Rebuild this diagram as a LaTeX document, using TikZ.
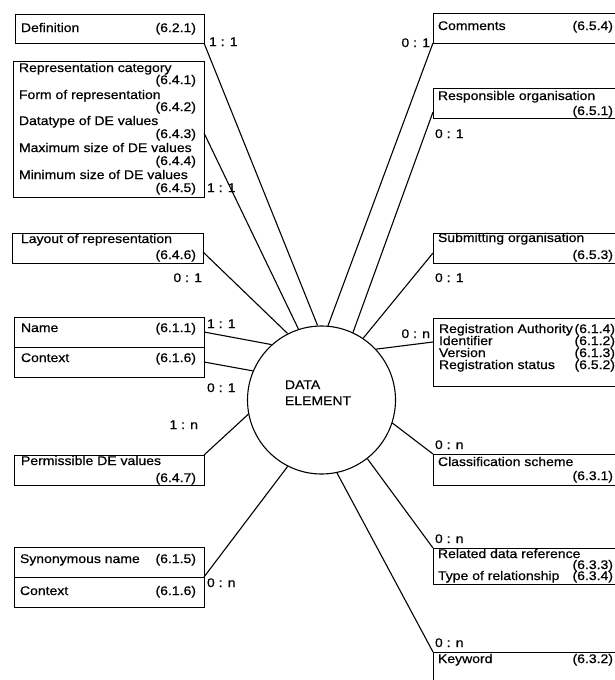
\documentclass[tikz,border=0pt]{standalone}
\usepackage{fontspec}
\setmainfont{Liberation Sans}[FakeStretch=1.12,FakeBold=0.6]
\begin{document}
\begin{tikzpicture}[x=1pt,y=-1pt,
  box/.style={draw, line width=0.7pt, inner sep=0, outer sep=0, anchor=north west},
  txt/.style={inner sep=0, outer sep=0, font=\fontsize{12.5}{14}\selectfont, anchor=base west},
  num/.style={txt, anchor=base east},
  link/.style={line width=1.1pt}]
\useasboundingbox (0,0) rectangle (615,680);
\clip (0,0) rectangle (615,680);
\fill[white] (0,0) rectangle (615,680);

% central entity
\node[circle, draw, line width=1.1pt, minimum size=148pt, inner sep=0] (de) at (321.5,400) {};
\node[txt] (deA) at (285,389) {DATA};
\node[txt] (deB) at (285,405) {ELEMENT};

% left boxes
\node[box, minimum width=189pt, minimum height=29pt] (def) at (15,14) {};
\node[box, minimum width=191pt, minimum height=136pt] (rep) at (13,61) {};
\node[box, minimum width=191pt, minimum height=30pt] (lay) at (12,233) {};
\node[box, minimum width=190pt, minimum height=30pt] (name) at (14,317) {};
\node[box, minimum width=190pt, minimum height=30pt] (ctxa) at (14,347) {};
\node[box, minimum width=190pt, minimum height=30pt] (perm) at (14,455) {};
\node[box, minimum width=190pt, minimum height=30pt] (syn) at (14,547) {};
\node[box, minimum width=190pt, minimum height=30pt] (ctxb) at (14,577) {};

% right boxes (cut by the picture's right edge)
\node[box, minimum width=200pt, minimum height=30pt] (com) at (433,13) {};
\node[box, minimum width=200pt, minimum height=30pt] (resp) at (433,88) {};
\node[box, minimum width=200pt, minimum height=30pt] (subm) at (433,233) {};
\node[box, minimum width=200pt, minimum height=68pt] (reg) at (433,318) {};
\node[box, minimum width=200pt, minimum height=31pt] (cls) at (433,454) {};
\node[box, minimum width=200pt, minimum height=36pt] (rel) at (433,548) {};
\node[box, minimum width=200pt, minimum height=40pt] (kw) at (433,652) {};

% left texts
\node[txt] (tdef) at (21,32) {Definition};
\node[num] (ndef) at (196,32) {(6.2.1)};
\node[txt] (trep1) at (19,72) {Representation category};
\node[num] (nrep1) at (196,84) {(6.4.1)};
\node[txt] (trep2) at (19,99) {Form of representation};
\node[num] (nrep2) at (196,111) {(6.4.2)};
\node[txt] (trep3) at (19,125) {Datatype of DE values};
\node[num] (nrep3) at (196,138) {(6.4.3)};
\node[txt] (trep4) at (19,152) {Maximum size of DE values};
\node[num] (nrep4) at (196,165) {(6.4.4)};
\node[txt] (trep5) at (19,179) {Minimum size of DE values};
\node[num] (nrep5) at (196,192) {(6.4.5)};
\node[txt] (tlay) at (21,243) {Layout of representation};
\node[num] (nlay) at (196,259) {(6.4.6)};
\node[txt] (tname) at (21,332) {Name};
\node[num] (nname) at (196,332) {(6.1.1)};
\node[txt] (tctxa) at (21,362) {Context};
\node[num] (nctxa) at (196,362) {(6.1.6)};
\node[txt] (tperm) at (21,465) {Permissible DE values};
\node[num] (nperm) at (196,482) {(6.4.7)};
\node[txt] (tsyn) at (20,563) {Synonymous name};
\node[num] (nsyn) at (196,563) {(6.1.5)};
\node[txt] (tctxb) at (20,595) {Context};
\node[num] (nctxb) at (196,595) {(6.1.6)};

% right texts
\node[txt] (tcom) at (438,30) {Comments};
\node[num] (ncom) at (613,30) {(6.5.4)};
\node[txt] (tresp) at (438,100) {Responsible organisation};
\node[num] (nresp) at (613,115) {(6.5.1)};
\node[txt] (tsubm) at (438,242) {Submitting organisation};
\node[num] (nsubm) at (613,259) {(6.5.3)};
\node[txt] (treg1) at (439,333) {Registration Authority};
\node[num] (nreg1) at (615,333) {(6.1.4)};
\node[txt] (treg2) at (439,345) {Identifier};
\node[num] (nreg2) at (615,345) {(6.1.2)};
\node[txt] (treg3) at (439,357) {Version};
\node[num] (nreg3) at (615,357) {(6.1.3)};
\node[txt] (treg4) at (439,369) {Registration status};
\node[num] (nreg4) at (615,369) {(6.5.2)};
\node[txt] (tcls) at (438,466) {Classification scheme};
\node[num] (ncls) at (613,480) {(6.3.1)};
\node[txt] (trel1) at (438,558) {Related data reference};
\node[num] (nrel1) at (613,569) {(6.3.3)};
\node[txt] (trel2) at (438,580) {Type of relationship};
\node[num] (nrel2) at (613,580) {(6.3.4)};
\node[txt] (tkw) at (438,663) {Keyword};
\node[num] (nkw) at (613,663) {(6.3.2)};

% cardinalities
\node[txt] (cdef) at (209,46) {1 : 1};
\node[txt] (crep) at (207,192) {1 : 1};
\node[num] (clay) at (202,282) {0 : 1};
\node[txt] (cname) at (207,328) {1 : 1};
\node[txt] (cctxa) at (207,392) {0 : 1};
\node[num] (cperm) at (198,429) {1 : n};
\node[txt] (csyn) at (207,587) {0 : n};
\node[num] (ccom) at (430,47) {0 : 1};
\node[txt] (cresp) at (435,138) {0 : 1};
\node[txt] (csubm) at (435,282) {0 : 1};
\node[num] (creg) at (430,338) {0 : n};
\node[txt] (ccls) at (435,449) {0 : n};
\node[txt] (crel) at (435,543) {0 : n};
\node[txt] (ckw) at (435,647) {0 : n};

% connectors
\draw[link] (def.south east) -- (de.93.4);
\draw[link] ([yshift=-72pt]rep.north east) -- (de.108.3);
\draw[link] ([yshift=-19pt]lay.north east) -- (de.117.2);
\draw[link] (name.east) -- (de.132);
\draw[link] (ctxa.east) -- (de.157.8);
\draw[link] (perm.north east) -- (de.191.5);
\draw[link] (syn.south east) -- (de.243.8);
\draw[link] (com.south west) -- (de.85);
\draw[link] ([yshift=6pt]resp.south west) -- (de.65.8);
\draw[link] ([yshift=10pt]subm.south west) -- (de.56.2);
\draw[link] ([yshift=-24pt]reg.north west) -- (de.43);
\draw[link] (cls.north west) -- (de.342);
\draw[link] (rel.north west) -- (de.308.7);
\draw[link] (kw.north west) -- (de.282.4);
\end{tikzpicture}
\end{document}
